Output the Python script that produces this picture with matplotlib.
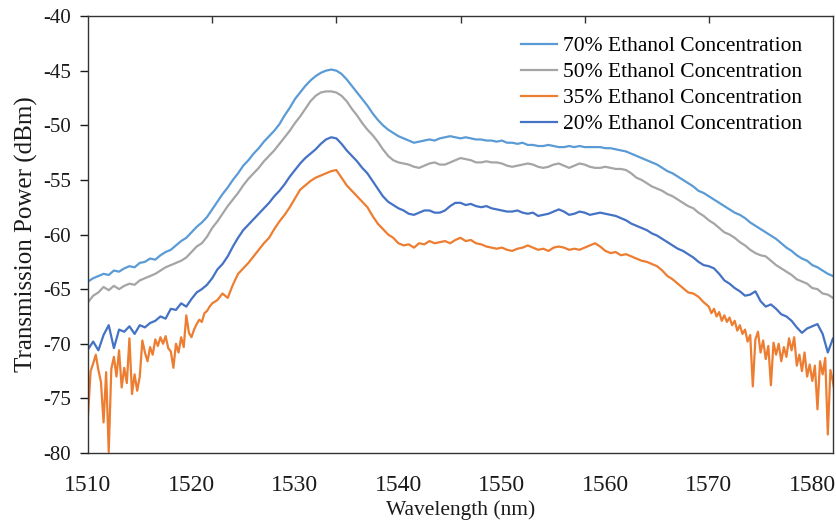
import numpy as np
import matplotlib
matplotlib.use("Agg")
import matplotlib.pyplot as plt

plt.rcParams['font.family'] = ['Liberation Serif', 'DejaVu Serif']
plt.rcParams['axes.unicode_minus'] = False

# wavelength grid (nm) shared by the three smoother traces
wl = np.arange(1510, 1582.51, 0.5)

# 70% ethanol (dBm)
p70 = [-64.3, -64.0, -63.8, -63.6, -63.7, -63.3, -63.4, -63.1, -62.9, -63.0,
       -62.6, -62.5, -62.2, -62.3, -61.9, -61.6, -61.4, -61.0, -60.6, -60.3,
       -59.8, -59.3, -58.9, -58.4, -57.7, -57.0, -56.3, -55.7, -55.0, -54.4,
       -53.7, -53.2, -52.6, -52.1, -51.5, -51.0, -50.5, -49.9, -49.1, -48.4,
       -47.6, -47.0, -46.4, -45.9, -45.5, -45.2, -45.0, -44.9, -45.0, -45.3,
       -45.8, -46.4, -47.0, -47.6, -48.2, -48.9, -49.5, -50.0, -50.4, -50.7,
       -51.0, -51.2, -51.4, -51.6, -51.5, -51.4, -51.3, -51.4, -51.2, -51.1,
       -51.0, -51.1, -51.2, -51.1, -51.2, -51.3, -51.3, -51.4, -51.4, -51.5,
       -51.4, -51.6, -51.6, -51.7, -51.6, -51.8, -51.8, -51.9, -51.9, -51.8,
       -51.9, -52.0, -52.0, -51.9, -52.0, -51.9, -52.0, -52.0, -52.0, -52.0,
       -52.1, -52.1, -52.2, -52.3, -52.4, -52.6, -52.8, -53.0, -53.2, -53.4,
       -53.6, -53.9, -54.2, -54.4, -54.7, -55.0, -55.3, -55.6, -56.0, -56.2,
       -56.5, -56.8, -57.1, -57.4, -57.7, -58.0, -58.2, -58.5, -58.9, -59.2,
       -59.5, -59.8, -60.1, -60.4, -60.8, -61.2, -61.5, -61.9, -62.2, -62.4,
       -62.8, -63.0, -63.3, -63.6, -63.8, -64.0]

# 50% ethanol (dBm)
p50 = [-66.2, -65.6, -65.3, -64.8, -65.1, -64.7, -65.0, -64.7, -64.5, -64.6,
       -64.2, -64.0, -63.8, -63.6, -63.3, -63.0, -62.8, -62.6, -62.4, -62.1,
       -61.6, -61.1, -60.8, -60.2, -59.4, -58.8, -58.1, -57.4, -56.8, -56.2,
       -55.5, -54.9, -54.4, -53.9, -53.3, -52.8, -52.3, -51.7, -51.1, -50.5,
       -49.8, -49.2, -48.5, -47.8, -47.3, -47.0, -46.9, -46.9, -47.0, -47.3,
       -47.8, -48.5, -49.1, -49.8, -50.4, -50.9, -51.5, -52.2, -52.8, -53.2,
       -53.4, -53.5, -53.6, -53.8, -53.9, -53.7, -53.5, -53.4, -53.6, -53.6,
       -53.4, -53.2, -53.0, -53.1, -53.2, -53.4, -53.4, -53.3, -53.4, -53.4,
       -53.5, -53.7, -53.8, -53.7, -53.6, -53.5, -53.6, -53.8, -53.9, -53.8,
       -53.6, -53.5, -53.7, -53.9, -53.7, -53.5, -53.6, -53.8, -53.9, -53.9,
       -53.8, -53.9, -54.0, -54.0, -54.1, -54.4, -54.8, -55.0, -55.3, -55.6,
       -55.8, -56.0, -56.3, -56.5, -56.8, -57.1, -57.4, -57.6, -58.0, -58.3,
       -58.7, -59.0, -59.4, -59.8, -60.0, -60.3, -60.7, -61.0, -61.4, -61.7,
       -61.9, -62.0, -62.4, -62.8, -63.1, -63.4, -63.7, -64.1, -64.3, -64.5,
       -64.9, -65.0, -65.4, -65.5, -65.8, -66.0]

# 20% ethanol (dBm)
p20 = [-70.5, -69.8, -70.6, -69.2, -68.3, -70.4, -68.7, -68.9, -68.4, -69.1,
       -68.3, -68.5, -68.1, -67.9, -67.5, -67.7, -66.8, -66.9, -66.3, -66.6,
       -65.9, -65.3, -65.0, -64.6, -64.0, -63.2, -62.7, -62.0, -61.1, -60.3,
       -59.6, -59.1, -58.6, -58.1, -57.6, -57.1, -56.5, -56.0, -55.4, -54.7,
       -54.1, -53.5, -53.0, -52.6, -52.2, -51.7, -51.3, -51.1, -51.2, -51.7,
       -52.3, -52.8, -53.3, -53.9, -54.4, -55.1, -55.8, -56.5, -57.0, -57.3,
       -57.6, -57.8, -58.1, -58.2, -58.0, -57.8, -57.8, -58.0, -58.0, -57.8,
       -57.4, -57.1, -57.1, -57.3, -57.2, -57.4, -57.5, -57.4, -57.6, -57.7,
       -57.8, -57.9, -57.9, -57.8, -58.0, -58.1, -58.0, -58.3, -58.2, -58.1,
       -57.9, -57.7, -57.9, -58.2, -58.1, -57.9, -58.0, -58.2, -58.1, -58.0,
       -58.1, -58.2, -58.3, -58.5, -58.7, -59.0, -59.2, -59.4, -59.6, -59.9,
       -60.1, -60.4, -60.7, -61.0, -61.3, -61.5, -61.8, -62.1, -62.5, -62.8,
       -62.9, -63.1, -63.6, -64.2, -64.5, -64.9, -65.2, -65.6, -65.5, -65.2,
       -66.1, -66.6, -66.4, -66.8, -67.3, -67.5, -67.9, -68.5, -69.0, -68.6,
       -68.4, -68.2, -69.1, -70.8, -69.5, -70.0]

wl35 = np.concatenate([np.arange(1510, 1522, 0.25),
                       np.arange(1522, 1570, 0.5),
                       np.arange(1570, 1582.51, 0.25)])
p35 = [-76.5, -72.5, -71.8, -71.0, -72.4, -73.5, -77.2, -72.6, -79.9, -72.3,
       -71.2, -73.0, -70.6, -74.0, -72.2, -73.6, -69.5, -74.6, -72.8, -74.3,
       -73.0, -69.7, -70.8, -71.6, -70.3, -71.0, -69.6, -70.2, -69.4, -70.0,
       -69.3, -70.4, -70.7, -72.2, -70.0, -70.8, -69.4, -70.3, -67.4, -69.0,
       -69.4, -68.7, -68.2, -67.8, -68.0, -67.2, -67.0, -66.6,
       -66.3, -66.0, -65.4, -65.8, -64.6, -63.6, -63.1, -62.6, -62.0, -61.4,
       -60.8, -60.3, -59.5, -58.8, -58.2, -57.5, -56.7, -55.9, -55.5, -55.1,
       -54.8, -54.6, -54.4, -54.2, -54.1, -54.8, -55.5, -56.0, -56.5, -57.0,
       -57.5, -58.3, -59.0, -59.5, -60.0, -60.3, -60.8, -61.0, -60.9, -61.2,
       -60.8, -60.9, -60.6, -60.8, -60.7, -60.6, -60.8, -60.5, -60.3, -60.6,
       -60.5, -60.8, -60.9, -61.1, -61.2, -61.3, -61.2, -61.4, -61.5, -61.3,
       -61.2, -61.0, -61.2, -61.4, -61.3, -61.5, -61.2, -61.1, -61.2, -61.4,
       -61.3, -61.4, -61.2, -61.0, -60.8, -61.1, -61.5, -61.7, -61.6, -61.9,
       -61.8, -62.0, -62.2, -62.4, -62.5, -62.7, -62.9, -63.3, -63.8, -64.1,
       -64.5, -64.9, -65.3, -65.4, -65.7, -66.2,
       -66.6, -67.2, -66.8, -67.5, -67.1, -67.9, -67.4, -68.0, -67.6, -68.3,
       -67.9, -68.8, -68.3, -69.1, -68.7, -69.8, -69.2, -73.9, -69.6, -68.9,
       -70.8, -69.7, -71.4, -70.2, -73.8, -69.9, -71.0, -70.0, -71.6, -70.3,
       -71.2, -69.5, -70.6, -69.4, -72.0, -71.0, -72.5, -70.8, -73.0, -71.9,
       -73.4, -72.0, -76.0, -71.6, -72.8, -71.3, -78.3, -72.4, -73.5, -75.0,
       -75.2]

labels = ["70% Ethanol Concentration", "50% Ethanol Concentration",
          "35% Ethanol Concentration", "20% Ethanol Concentration"]
colors = ["#5B9BD5", "#A5A5A5", "#ED7D31", "#4472C4"]

fig = plt.figure(figsize=(8.36, 5.23), dpi=100)
ax = fig.add_axes([0.1053, 0.1338, 0.8911, 0.8356])

series = [(wl, p70), (wl, p50), (wl35, p35), (wl, p20)]
for (x, y), lab, col in zip(series, labels, colors):
    ax.plot(x, y, color=col, lw=1.6, label=lab)

ax.set_xlim(1510, 1582)
ax.set_ylim(-80, -40)
ax.set_xticks(range(1510, 1581, 10))
ax.set_yticks(range(-80, -39, 5))

txt = "#1a1a1a"
ax.tick_params(axis='x', length=0, pad=16, labelsize=17, colors=txt)
ax.tick_params(axis='y', direction='out', length=6, width=1, pad=6,
               labelsize=15, colors=txt)
for sp in ax.spines.values():
    sp.set_color("#333333")
    sp.set_linewidth(1.0)

# tick marks along the top edge
top = ax.secondary_xaxis('top')
top.set_xticks([1522, 1534, 1546, 1558, 1570])
top.set_xticklabels([])
top.tick_params(direction='in', length=5, width=1, color="#333333")
top.spines['top'].set_visible(False)

ax.set_xlabel("Wavelength (nm)", fontsize=15.5, color=txt, labelpad=3)
ax.set_ylabel("Transmission Power (dBm)", fontsize=18, color=txt, labelpad=4)

ax.legend(loc='upper left', bbox_to_anchor=(0.581, 0.954), frameon=False,
          fontsize=15.5, handlelength=1.7, handletextpad=0.25,
          labelspacing=0.28, borderpad=0, borderaxespad=0)

plt.savefig("out.png", dpi=100)
plt.close()
